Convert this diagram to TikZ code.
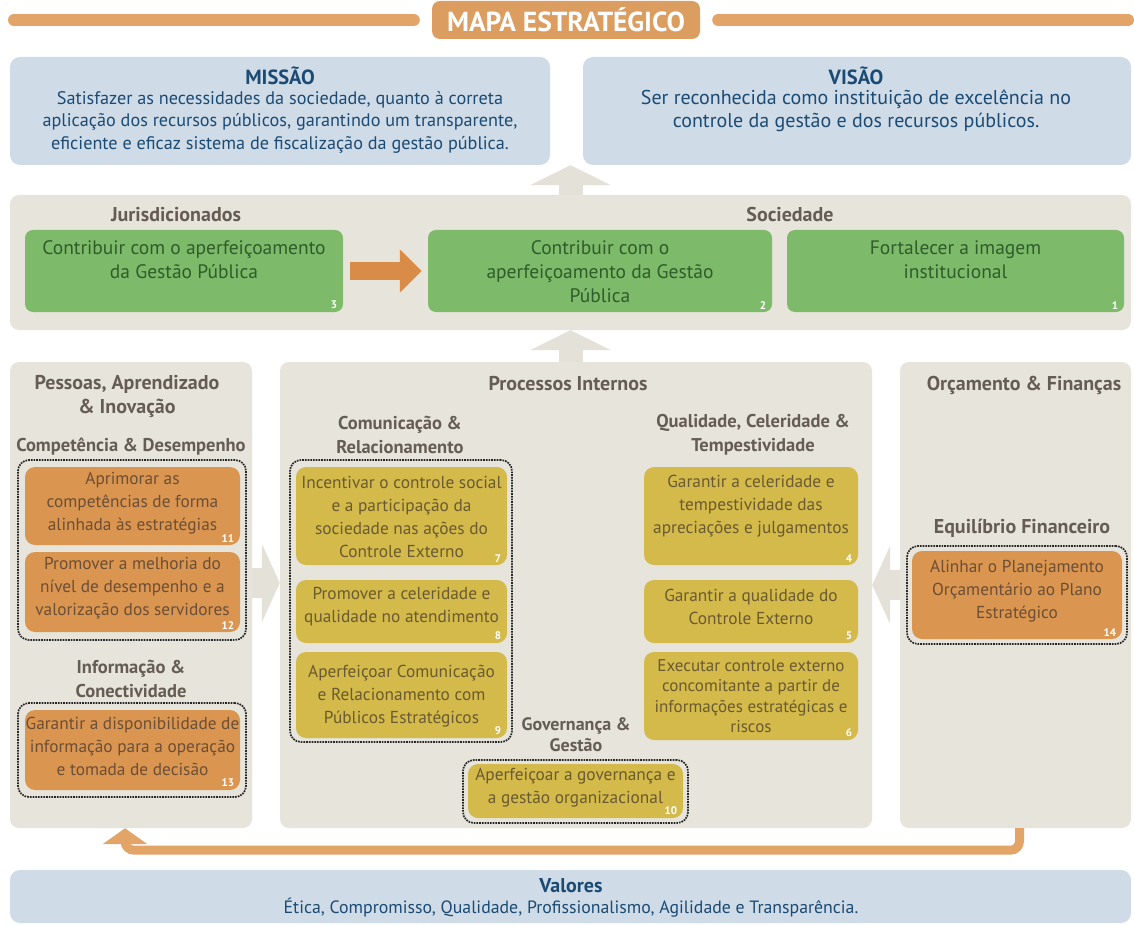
\documentclass[tikz,border=0pt]{standalone}
\usepackage{fontspec}
\setmainfont{PT Sans}
\usetikzlibrary{arrows.meta}
\definecolor{panel}{HTML}{E7E5DB}
\definecolor{bluebox}{HTML}{CFDCE8}
\definecolor{bluetext}{HTML}{1B4A73}
\definecolor{greenbox}{HTML}{7DBB6B}
\definecolor{greentext}{HTML}{2E5C2A}
\definecolor{orangeline}{HTML}{E2A467}
\definecolor{titlebox}{HTML}{DC9E60}
\definecolor{orangebox}{HTML}{DA9651}
\definecolor{orangearrow}{HTML}{D98C48}
\definecolor{orangetext}{HTML}{6B4E36}
\definecolor{mustard}{HTML}{D3BA4B}
\definecolor{mustardtext}{HTML}{6A5A30}
\definecolor{headtext}{HTML}{655D55}
\definecolor{arrowbeige}{HTML}{E4E2D8}
\tikzset{
  panelbox/.style={fill=panel, rounded corners=9pt},
  bluebx/.style={fill=bluebox, rounded corners=10pt},
  gbx/.style={fill=greenbox, rounded corners=8pt},
  gbxtxt/.style={font=\fontsize{19.5}{24}\selectfont, text=greentext, align=center, inner sep=0pt},
  obx/.style={fill=orangebox, rounded corners=10pt},
  obxtxt/.style={font=\fontsize{17.3}{23}\selectfont, text=orangetext, align=center, inner sep=0pt},
  mbx/.style={fill=mustard, rounded corners=10pt},
  mbxtxt/.style={font=\fontsize{17.3}{23}\selectfont, text=mustardtext, align=center, inner sep=0pt},
  dotbox/.style={draw=black!85, densely dotted, line width=1.7pt, rounded corners=11pt},
  heading/.style={font=\bfseries\fontsize{20}{24}\selectfont, text=headtext, align=center, inner sep=0pt},
  subheading/.style={font=\bfseries\fontsize{18.5}{24}\selectfont, text=headtext, align=center, inner sep=0pt},
  num/.style={font=\bfseries\fontsize{11}{11}\selectfont, text=white, anchor=south east, inner sep=0pt},
  bigarrow/.style={arrowbeige, line width=24pt, -{Triangle[width=80pt,length=20pt]}},
  sidearrow/.style={arrowbeige, line width=30pt, -{Triangle[width=78pt,length=18pt]}},
}
\newcommand\rbox[6]{%
  \node[#6, minimum width={(#4-#2)*1pt}, minimum height={(#5-#3)*1pt}, inner sep=0pt] (#1) at ({(#2+#4)/2},{(#3+#5)/2}) {};}
\newcommand\tbox[9]{%
  \node[#6, minimum width={(#4-#2)*1pt}, minimum height={(#5-#3)*1pt}, inner sep=0pt] (#1) at ({(#2+#4)/2},{(#3+#5)/2}) {};
  \node[#6txt] (#1t) at ([yshift=#8pt]#1.center) {#7};
  \node[num] (#1n) at ([xshift=-6pt,yshift=3pt]#1.south east) {#9};}
\begin{document}
\begin{tikzpicture}[x=1pt,y=-1pt]
\useasboundingbox[fill=white] (0,0) rectangle (1134,925);
% header
\node[fill=titlebox, rounded corners=8pt, minimum width=268pt, minimum height=38pt, inner sep=0pt,
      font=\bfseries\fontsize{27.5}{28}\selectfont, text=white] (title) at (566,20) {MAPA ESTRATÉGICO};
\coordinate (hl) at (14,20);
\coordinate (hr) at (1128,20);
\draw[orangeline, line width=12pt, line cap=round] (hl) -- ([xshift=-18pt]title.west);
\draw[orangeline, line width=12pt, line cap=round] ([xshift=18pt]title.east) -- (hr);
% mission / vision
\rbox{mis}{10}{57}{550}{165}{bluebx}
\node[font=\bfseries\fontsize{20.5}{22}\selectfont, text=bluetext, inner sep=0pt] (mist) at (280,76) {MISSÃO};
\node[font=\fontsize{18.2}{22.5}\selectfont, text=bluetext, align=center, inner sep=0pt] (mistx) at (280,122)
  {Satisfazer as necessidades da sociedade, quanto à correta\\aplicação dos recursos públicos, garantindo um transparente,\\eficiente e eficaz sistema de fiscalização da gestão pública.};
\rbox{vis}{583}{57}{1131}{165}{bluebx}
\node[font=\bfseries\fontsize{20.5}{22}\selectfont, text=bluetext, inner sep=0pt] (vist) at (856,76) {VISÃO};
\node[font=\fontsize{20}{23}\selectfont, text=bluetext, align=center, inner sep=0pt] (vistx) at (856,111)
  {Ser reconhecida como instituição de excelência no\\controle da gestão e dos recursos públicos.};
% panels
\rbox{jp}{10}{195}{1131}{330}{panelbox}
\rbox{lp}{10}{362}{252}{828}{panelbox}
\rbox{mp}{280}{362}{872}{828}{panelbox}
\rbox{rp}{900}{362}{1131}{828}{panelbox}
% beige arrows
\draw[bigarrow] (jp.north) -- (jp.north |- mis.south);
\draw[bigarrow] (mp.north -| jp.south) -- (jp.south);
\draw[sidearrow] ([yshift=12pt]lp.east) -- ([yshift=12pt]mp.west);
\draw[sidearrow] ([yshift=10pt]rp.west) -- ([yshift=10pt]mp.east);
% bottom orange arrow
\draw[orangeline, line width=9pt, rounded corners=9pt, -{Triangle[width=44pt,length=16pt]}]
  ([xshift=4pt]rp.south) -- ++(0,22) -| ([xshift=-6pt]lp.south);
% results row
\node[heading] (hj) at (176,215) {Jurisdicionados};
\node[heading] (hs) at (790,215) {Sociedade};
\tbox{g3}{25}{230}{343}{312}{gbx}{Contribuir com o aperfeiçoamento\\da Gestão Pública}{11}{3}
\tbox{g2}{428}{230}{772}{312}{gbx}{Contribuir com o\\aperfeiçoamento da Gestão\\Pública}{-1}{2}
\tbox{g1}{787}{230}{1124}{312}{gbx}{Fortalecer a imagem\\institucional}{11}{1}
\draw[orangearrow, line width=18pt, -{Triangle[width=42pt,length=22pt]}, shorten <=7pt, shorten >=6pt] (g3.east) -- (g2.west);
% left panel
\node[heading] (hp) at (127,396) {Pessoas, Aprendizado\\\& Inovação};
\node[subheading] (hc) at (131,447) {Competência \& Desempenho};
\rbox{d1}{18}{460}{246}{640}{dotbox}
\tbox{b11}{25}{467}{240}{545}{obx}{Aprimorar as\\competências de forma\\alinhada às estratégias}{3}{11}
\tbox{b12}{25}{552}{240}{632}{obx}{Promover a melhoria do\\nível de desempenho e a\\valorização dos servidores}{4}{12}
\node[subheading] (hi) at (131,679) {Informação \&\\Conectividade};
\rbox{d4}{18}{703}{246}{797}{dotbox}
\tbox{b13}{25}{710}{240}{790}{obx}{Garantir a disponibilidade de\\informação para a operação\\e tomada de decisão}{4}{13}
% middle panel
\node[heading] (hm) at (568,384) {Processos Internos};
\node[subheading] (hcr) at (400,435) {Comunicação \&\\Relacionamento};
\rbox{d2}{290}{460}{512}{742}{dotbox}
\tbox{b7}{296}{467}{507}{565}{mbx}{Incentivar o controle social\\e a participação da\\sociedade nas ações do\\Controle Externo}{-1}{7}
\tbox{b8}{296}{580}{507}{643}{mbx}{Promover a celeridade e\\qualidade no atendimento}{5}{8}
\tbox{b9}{296}{652}{507}{738}{mbx}{Aperfeiçoar Comunicação\\e Relacionamento com\\Públicos Estratégicos}{-1}{9}
\node[subheading, font=\bfseries\fontsize{18}{21}\selectfont] (hg) at (576,735) {Governança \&\\Gestão};
\rbox{d3}{463}{760}{688}{823}{dotbox}
\tbox{b10}{468}{764}{683}{818}{mbx}{Aperfeiçoar a governança e\\a gestão organizacional}{3}{10}
\node[subheading] (hq) at (753,435) {Qualidade, Celeridade \&\\Tempestividade};
\tbox{b4}{644}{467}{858}{565}{mbx}{Garantir a celeridade e\\tempestividade das\\apreciações e julgamentos}{10}{4}
\tbox{b5}{644}{580}{858}{643}{mbx}{Garantir a qualidade do\\Controle Externo}{5}{5}
\node[fill=mustard, rounded corners=10pt, minimum width=214pt, minimum height=88pt, inner sep=0pt] (b6) at (751,696) {};
\node[mbxtxt, font=\fontsize{17}{20.5}\selectfont] (b6t) at ([yshift=0pt]b6.center) {Executar controle externo\\concomitante a partir de\\informações estratégicas e\\riscos};
\node[num] (b6n) at ([xshift=-6pt,yshift=3pt]b6.south east) {6};
% right panel
\node[heading] (ho) at (1024,385) {Orçamento \& Finanças};
\node[heading] (he) at (1022,528) {Equilíbrio Financeiro};
\rbox{d5}{907}{546}{1127}{644}{dotbox}
\tbox{b14}{912}{551}{1122}{639}{obx}{Alinhar o Planejamento\\Orçamentário ao Plano\\Estratégico}{4}{14}
% values
\rbox{val}{10}{870}{1131}{923}{bluebx}
\node[font=\bfseries\fontsize{20}{22}\selectfont, text=bluetext, inner sep=0pt] (valt) at (571,886) {Valores};
\node[font=\fontsize{17.8}{20}\selectfont, text=bluetext, inner sep=0pt] (valx) at (571,908) {Ética, Compromisso, Qualidade, Profissionalismo, Agilidade e Transparência.};
\end{tikzpicture}
\end{document}
